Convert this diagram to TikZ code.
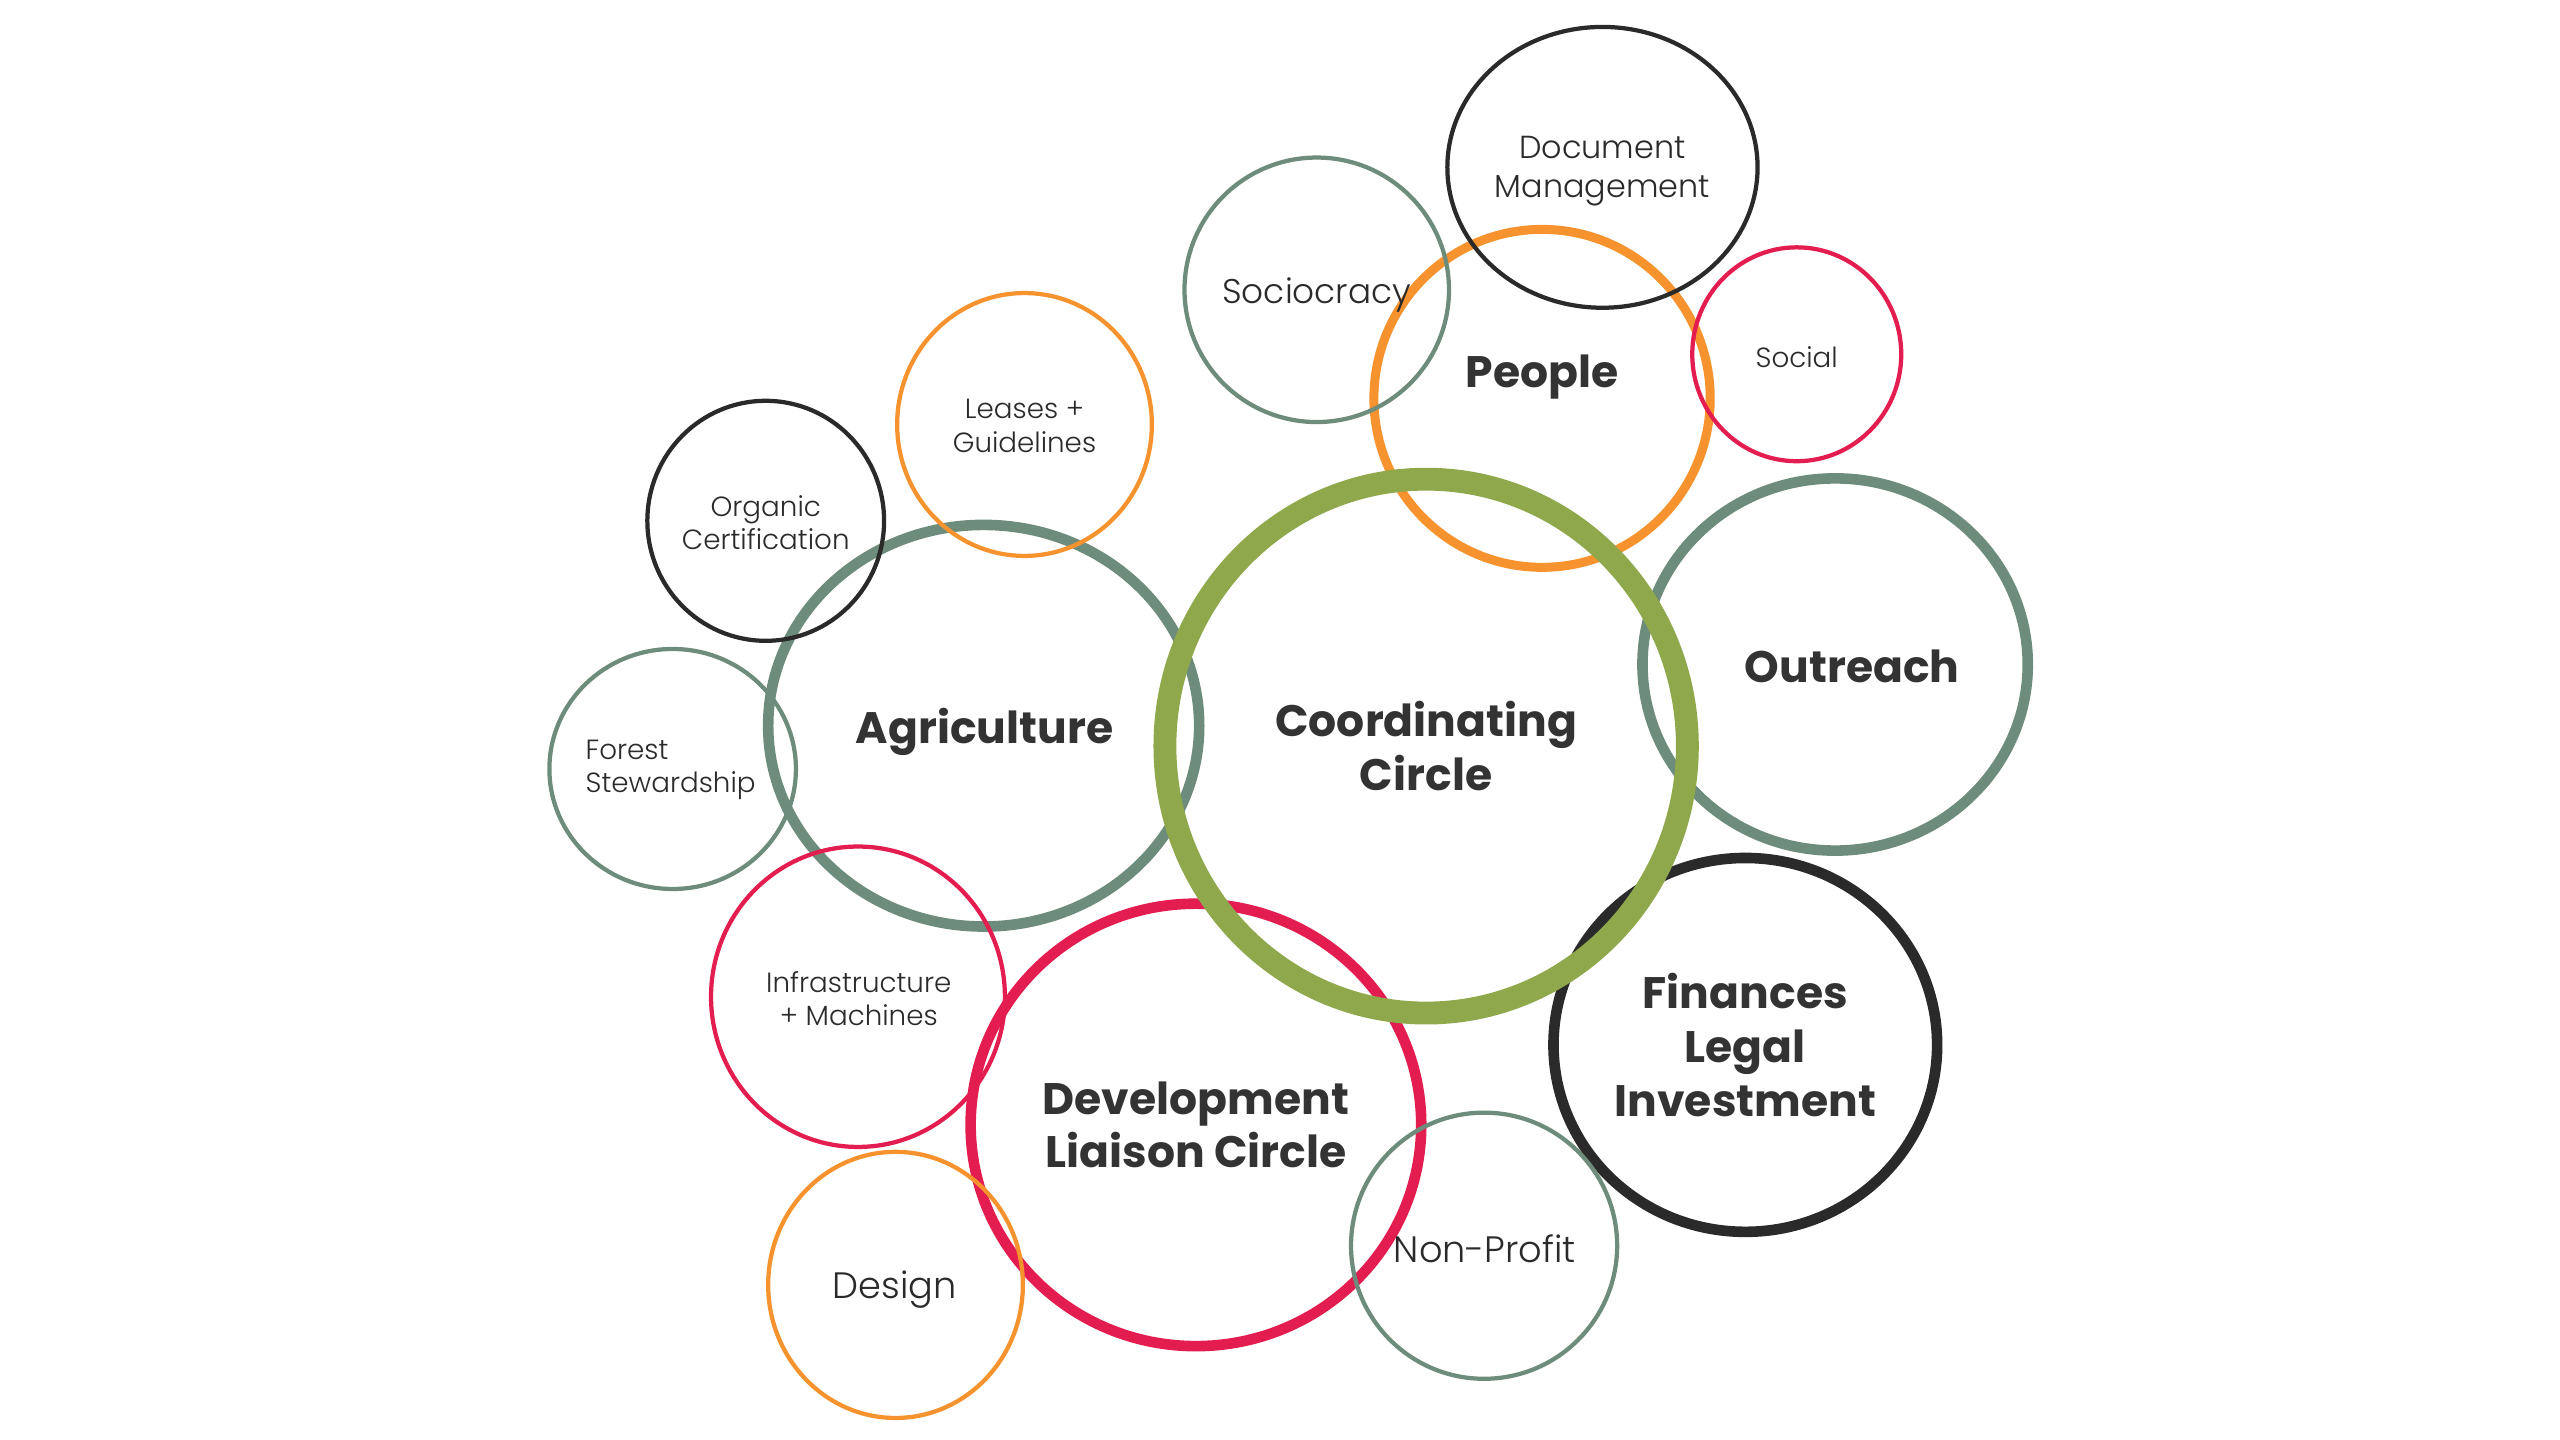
\documentclass[tikz,border=0pt]{standalone}
\usepackage{fontspec}
\setmainfont{Poppins}
\IfFontExistsTF{Poppins Light}{\newfontfamily\lightfont{Poppins Light}}{\newfontfamily\lightfont{Poppins}}
\definecolor{csage}{HTML}{6E8C7C}
\definecolor{cgreen}{HTML}{8FA84B}
\definecolor{corange}{HTML}{F7932F}
\definecolor{cred}{HTML}{E31D4F}
\definecolor{cblack}{HTML}{2A2A2A}
\definecolor{ctext}{HTML}{333333}
\tikzset{
  thinring/.style={draw=#1, line width=2.6pt},
  midring/.style={draw=#1, line width=5.5pt},
  thickring/.style={draw=#1, line width=6.5pt},
  hugering/.style={draw=#1, line width=14pt},
  biglabel/.style={text=ctext, align=center, font=\fontsize{27}{33}\selectfont\bfseries},
  smalllabel/.style={text=cblack, align=center, font=\fontsize{17}{20.5}\selectfont\lightfont},
  medlabel/.style={text=cblack, align=center, font=\fontsize{22.5}{24}\selectfont\lightfont},
  doclabel/.style={text=cblack, align=center, font=\fontsize{19.5}{24}\selectfont\lightfont},
}
\begin{document}
\begin{tikzpicture}[x=1pt,y=-1pt]
\useasboundingbox[fill=white] (0,0) rectangle (1568,882);
% large rings
\draw[thickring=csage] (602.5,444.5) ellipse [x radius=132, y radius=123];
\draw[thickring=cred] (732.5,689) ellipse [x radius=138, y radius=135.5];
\draw[thickring=csage] (1124,407) ellipse [x radius=118, y radius=114];
\draw[thickring=cblack] (1069,640) ellipse [x radius=117.5, y radius=114.5];
\draw[midring=corange] (944.5,244) ellipse [x radius=103, y radius=103.5];
% small rings
\draw[thinring=csage] (806.5,177.5) ellipse [x radius=81, y radius=81];
\draw[thinring=cblack] (981.5,102.5) ellipse [x radius=95, y radius=86];
\draw[thinring=cred] (1100.5,217) ellipse [x radius=64, y radius=65.5];
\draw[thinring=corange] (627.5,260) ellipse [x radius=78, y radius=80.5];
\draw[thinring=cblack] (469,319) ellipse [x radius=72.5, y radius=73.5];
\draw[thinring=csage] (412,471) ellipse [x radius=75.5, y radius=73.5];
\draw[thinring=cred] (525.5,610.5) ellipse [x radius=90, y radius=92];
\draw[thinring=corange] (548.5,787) ellipse [x radius=78, y radius=81.5];
\draw[thinring=csage] (909,763) ellipse [x radius=81.5, y radius=81.5];
% coordinating ring
\draw[hugering=cgreen] (873.5,457) ellipse [x radius=160, y radius=163.5];
% labels
\node[biglabel] (coord) at (873.5,457) {Coordinating\\Circle};
\node[biglabel] (people) at (944.5,231) {People};
\node[biglabel] (agri) at (603,448) {Agriculture};
\node[biglabel] (outreach) at (1134.5,408) {Outreach};
\node[biglabel] (fin) at (1069,640) {Finances\\Legal\\Investment};
\node[biglabel] (dev) at (732.5,689) {Development\\Liaison Circle};
\node[medlabel, font=\fontsize{21}{24}\selectfont\lightfont] (socio) at (806.5,180.5) {Sociocracy};
\node[doclabel] (docm) at (981.5,105) {Document\\Management};
\node[smalllabel] (social) at (1100.5,218.5) {Social};
\node[smalllabel] (leases) at (627.5,261) {Leases +\\Guidelines};
\node[smalllabel] (organic) at (469,320) {Organic\\Certification};
\node[smalllabel, align=left, anchor=west, inner sep=0pt] (forest) at (358.5,471.5) {Forest\\Stewardship};
\node[smalllabel] (infra) at (526,611.5) {Infrastructure\\+ Machines};
\node[medlabel] (design) at (548,790) {Design};
\node[medlabel] (nonprofit) at (909.5,765) {Non-Profit};
\end{tikzpicture}
\end{document}
